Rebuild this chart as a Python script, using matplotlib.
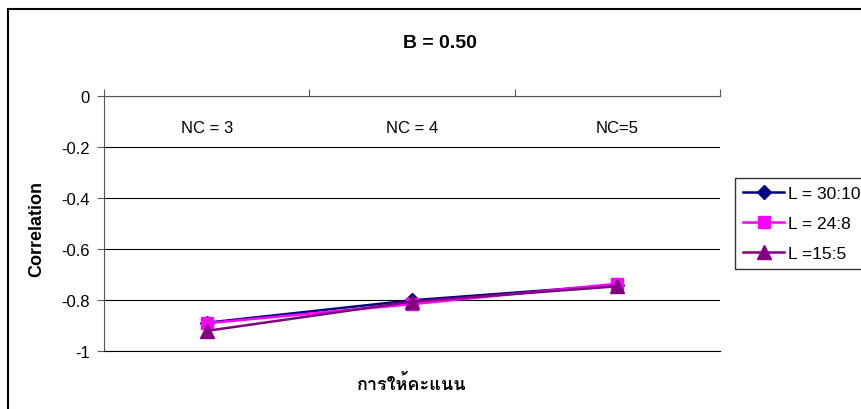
import matplotlib
matplotlib.use("Agg")
import matplotlib.pyplot as plt
from matplotlib import font_manager
from matplotlib.ft2font import FT2Font
from matplotlib.lines import Line2D

# ---- data ----
categories = ["NC = 3", "NC = 4", "NC=5"]
series_names = ["L = 30:10", "L = 24:8", "L =15:5"]
corr_30_10 = [-0.888, -0.800, -0.740]
corr_24_8 = [-0.890, -0.815, -0.735]
corr_15_5 = [-0.920, -0.805, -0.745]
y_ticks = [0, -0.2, -0.4, -0.6, -0.8, -1]
y_tick_labels = ["0", "-0.2", "-0.4", "-0.6", "-0.8", "-1"]

title = "B = 0.50"
x_label = "การให้คะแนน"
y_label = "Correlation"


def thai_family():
    # pick any installed family that has Thai glyphs
    for f in font_manager.fontManager.ttflist:
        try:
            if FT2Font(f.fname).get_char_index(0x0E01):
                return f.name
        except Exception:
            continue
    return "DejaVu Sans"


plt.rcParams['font.family'] = ['Liberation Sans', 'DejaVu Sans']
thai = thai_family()

W, H = 862, 410
fig = plt.figure(figsize=(W / 100, H / 100), dpi=100)
fig.patch.set_facecolor("white")

# chart frame: only its left and top edges are inside the image
fig.add_artist(Line2D([8 / W, 8 / W], [0, 1 - 10 / H], transform=fig.transFigure,
                      color="black", linewidth=1.5))
fig.add_artist(Line2D([8 / W, 1], [1 - 10 / H, 1 - 10 / H], transform=fig.transFigure,
                      color="black", linewidth=1.5))

ax = fig.add_axes([104 / W, (H - 352.3) / H, 616 / W, 255 / H])

x = list(range(len(categories)))
ax.plot(x, corr_30_10, color="#000080", marker="D", markersize=7, linewidth=1.8,
        label=series_names[0], zorder=3)
ax.plot(x, corr_24_8, color="#FF00FF", marker="s", markersize=8, linewidth=1.8,
        label=series_names[1], zorder=4)
ax.plot(x, corr_15_5, color="#800080", marker="^", markersize=10, linewidth=1.8,
        label=series_names[2], zorder=5)

ax.set_xlim(-0.5, len(categories) - 0.5)
ax.set_ylim(-1, 0)
ax.set_yticks(y_ticks, labels=y_tick_labels)
ax.grid(axis="y", color="black", linewidth=0.8)
ax.set_axisbelow(True)

# category axis sits on y = 0, labels hang below it
ax.xaxis.tick_top()
ax.set_xticks([i - 0.5 for i in range(len(categories) + 1)], labels=[""] * (len(categories) + 1))
ax.set_xticks(x, labels=categories, minor=True)
ax.tick_params(axis="x", which="major", direction="out", length=5, width=0.8, color="#555555")
ax.tick_params(axis="x", which="minor", length=0, pad=-28, labelsize=12)
ax.tick_params(axis="y", direction="out", length=5, width=0.8, color="#555555",
               labelsize=12, pad=5)

ax.spines["right"].set_visible(False)
for side in ["left", "top"]:
    ax.spines[side].set_color("#555555")
    ax.spines[side].set_linewidth(0.8)
ax.spines["bottom"].set_color("black")
ax.spines["bottom"].set_linewidth(0.8)

ax.set_ylabel(y_label, fontsize=13, fontweight="bold")
ax.yaxis.set_label_coords(-0.095, 0.485)

fig.text(440 / W, 1 - 44 / H, title, ha="center", va="center", fontsize=14, fontweight="bold")
fig.text(412 / W, 1 - 385 / H, x_label, ha="center", va="center", fontsize=13,
         fontweight="bold", family=[thai, "DejaVu Sans"])

leg = fig.legend(loc="upper left", bbox_to_anchor=(735 / W, 1 - 179 / H), fontsize=12.5,
                 frameon=True, fancybox=False, shadow=False, handlelength=2.4,
                 handletextpad=0.2, borderpad=0.45, labelspacing=0.85, borderaxespad=0)
leg.get_frame().set_edgecolor("black")
leg.get_frame().set_linewidth(1.0)

fig.savefig("out.png", dpi=100, facecolor="white")
